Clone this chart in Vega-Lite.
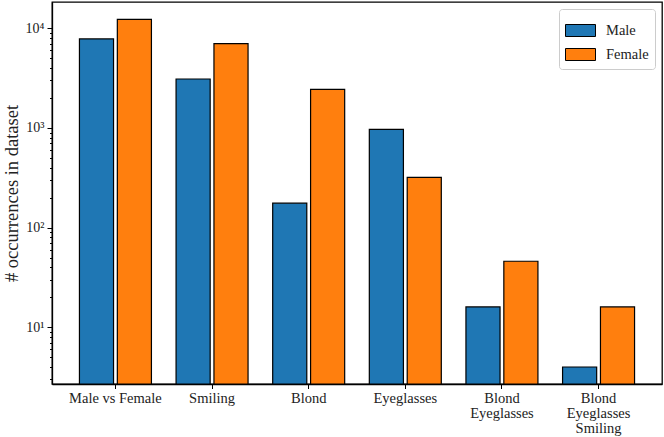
{
  "$schema": "https://vega.github.io/schema/vega-lite/v6.json",
  "width": 610,
  "height": 382,
  "autosize": {"type": "none"},
  "padding": {"left": 52, "top": 2, "right": 2, "bottom": 53},
  "config": {
    "font": "Liberation Serif",
    "view": {"stroke": "black", "strokeWidth": 1.3},
    "axis": {"domainColor": "black", "domainWidth": 1.3, "tickColor": "black", "tickWidth": 1, "labelColor": "#222", "titleColor": "#222", "grid": false, "labelFont": "Liberation Serif", "titleFont": "Liberation Serif"}
  },
  "data": {
    "values": [
      {"cat": "Male vs Female", "gender": "Male", "count": 7820},
      {"cat": "Male vs Female", "gender": "Female", "count": 12310},
      {"cat": "Smiling", "gender": "Male", "count": 3100},
      {"cat": "Smiling", "gender": "Female", "count": 7010},
      {"cat": "Blond", "gender": "Male", "count": 176},
      {"cat": "Blond", "gender": "Female", "count": 2440},
      {"cat": "Eyeglasses", "gender": "Male", "count": 970},
      {"cat": "Eyeglasses", "gender": "Female", "count": 320},
      {"cat": "Blond|Eyeglasses", "gender": "Male", "count": 16},
      {"cat": "Blond|Eyeglasses", "gender": "Female", "count": 46},
      {"cat": "Blond|Eyeglasses|Smiling", "gender": "Male", "count": 4},
      {"cat": "Blond|Eyeglasses|Smiling", "gender": "Female", "count": 16}
    ]
  },
  "mark": {"type": "bar", "stroke": "black", "strokeWidth": 1.2},
  "encoding": {
    "x": {
      "field": "cat", "type": "nominal", "sort": null,
      "scale": {"paddingInner": 0.255, "paddingOuter": 0.284},
      "axis": {"title": null, "labelAngle": 0, "labelExpr": "split(datum.value, '|')", "labelFontSize": 14.5, "labelLineHeight": 15, "tickSize": 4.5, "labelPadding": 3, "labelBaseline": "top"}
    },
    "xOffset": {"field": "gender", "type": "nominal", "sort": ["Male", "Female"], "scale": {"paddingInner": 0.1}},
    "y": {
      "field": "count", "type": "quantitative",
      "scale": {"type": "log", "domain": [2.7, 18350], "nice": false},
      "axis": {
        "title": "# occurrences in dataset",
        "titleFontSize": 18.5, "titleFontWeight": "normal", "titlePadding": 4,
        "values": [3,4,5,6,7,8,9,10,20,30,40,50,60,70,80,90,100,200,300,400,500,600,700,800,900,1000,2000,3000,4000,5000,6000,7000,8000,9000,10000],
        "labelExpr": "datum.value == 10 ? '10¹' : datum.value == 100 ? '10²' : datum.value == 1000 ? '10³' : datum.value == 10000 ? '10⁴' : ''",
        "labelFontSize": 14,
        "labelPadding": 3,
        "tickSize": {"condition": {"test": "datum.value == 10 || datum.value == 100 || datum.value == 1000 || datum.value == 10000", "value": 5}, "value": 2.5}
      }
    },
    "y2": {"datum": 2.7},
    "color": {
      "field": "gender", "type": "nominal", "sort": ["Male", "Female"],
      "scale": {"domain": ["Male", "Female"], "range": ["#1f77b4", "#ff7f0e"]},
      "legend": {
        "title": null, "orient": "top-right", "offset": 7,
        "padding": 6, "strokeColor": "#cccccc", "fillColor": "white", "cornerRadius": 3,
        "symbolType": "M-1,-0.4H1V0.4H-1Z", "symbolSize": 900,
        "symbolStrokeColor": "black", "symbolStrokeWidth": 1, "symbolOpacity": 1,
        "labelFontSize": 14.5, "labelOffset": 10, "rowPadding": -9, "labelColor": "#222"
      }
    }
  }
}
